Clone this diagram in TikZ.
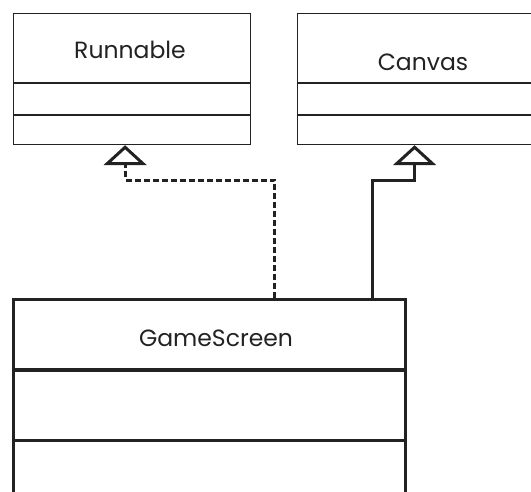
\documentclass[tikz,border=0pt]{standalone}
\usepackage{fontspec}
\setmainfont{Poppins}
\usetikzlibrary{arrows.meta}
\definecolor{ink}{HTML}{222222}
\tikzset{
  thinbox/.style={draw=ink, line width=1.2pt, anchor=north west, inner sep=0pt},
  thickbox/.style={draw=ink, line width=3pt, anchor=north west, inner sep=0pt},
  label/.style={text=ink, font=\fontsize{23.5}{26}\selectfont, inner sep=0pt},
  realize/.style={draw=ink, line width=3pt, dash pattern=on 6pt off 3pt,
    -{Triangle[open, length=20pt, width=43pt, fill=white]}},
  inherit/.style={draw=ink, line width=3pt,
    -{Triangle[open, length=20pt, width=43pt, fill=white]}}
}
\begin{document}
\begin{tikzpicture}[x=1pt,y=-1pt]
\useasboundingbox (0,0) rectangle (531,491);
\clip (0,0) rectangle (531,491);
% Runnable
\node[thinbox, minimum width=237pt, minimum height=131pt] (run) at (13,13) {};
\node[label] (runlbl) at (130,50) {Runnable};
\draw[ink, line width=1.2pt] (13,83) -- (250,83);
\draw[ink, line width=1.2pt] (13,115) -- (250,115);
% Canvas
\node[thinbox, minimum width=252pt, minimum height=131pt] (can) at (297,13) {};
\node[label] (canlbl) at (423,62) {Canvas};
\draw[ink, line width=1.2pt] (297,83) -- (549,83);
\draw[ink, line width=1.2pt] (297,115) -- (549,115);
% GameScreen
\node[thickbox, minimum width=392pt, minimum height=240pt] (gs) at (12,298) {};
\node[label] (gslbl) at (216,338) {GameScreen};
\draw[ink, line width=3.5pt] (12,370) -- (404,370);
\draw[ink, line width=3pt] (12,440) -- (404,440);
% connectors
\draw[realize] ([xshift=65pt]gs.north) -- ++(0,-118) -| ([xshift=-7pt]run.south);
\draw[inherit] ([xshift=163pt]gs.north) -- ++(0,-118) -| ([xshift=-9pt]can.south);
\end{tikzpicture}
\end{document}
